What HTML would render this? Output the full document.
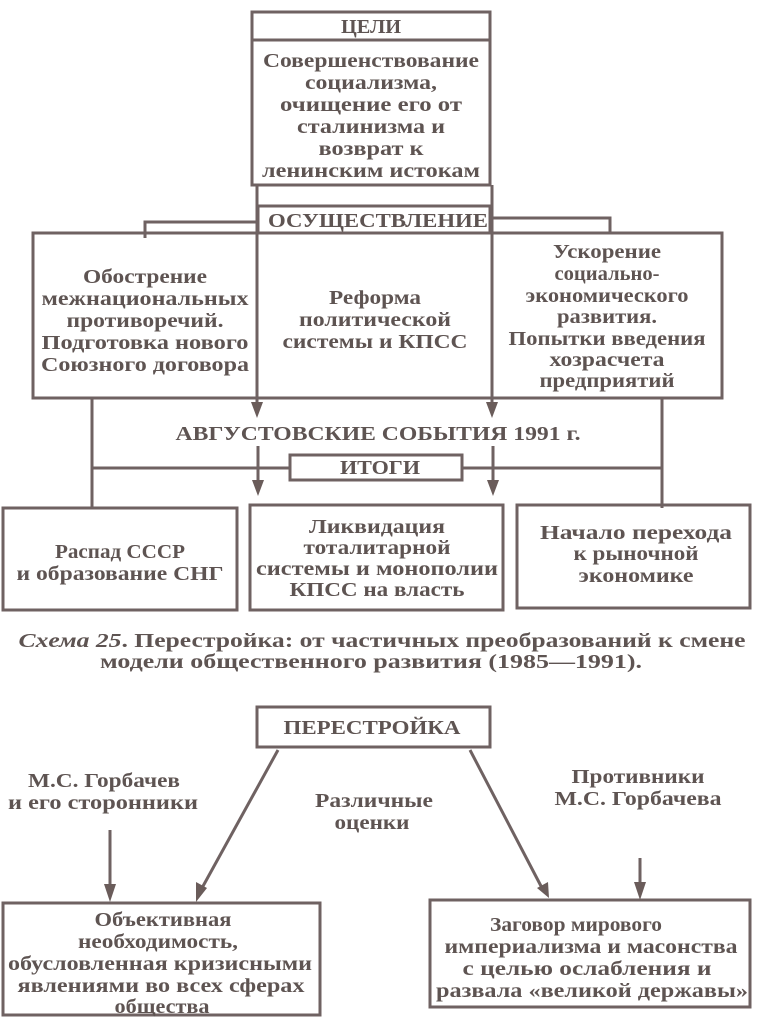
<!DOCTYPE html>
<html><head><meta charset="utf-8"><style>
html,body{margin:0;padding:0;background:#fff}
svg{display:block}
text{font-family:"Liberation Serif","DejaVu Serif",serif;font-weight:bold;fill:#5e5452;font-size:20px;text-anchor:middle}
</style></head><body>
<svg width="767" height="1024" viewBox="0 0 767 1024" xmlns="http://www.w3.org/2000/svg">
<g fill="none" stroke="#6f6262" stroke-width="3">
<rect x="252" y="12" width="238" height="173"/>
<line x1="252" y1="40" x2="490" y2="40"/>
<line x1="257" y1="185" x2="257" y2="405"/>
<line x1="492" y1="185" x2="492" y2="405"/>
<rect x="258" y="206" width="232" height="27"/>
<polyline points="145,238 145,222 258,222"/>
<polyline points="490,218 610,218 610,233"/>
<rect x="33" y="233" width="689" height="165"/>
<line x1="92" y1="398" x2="92" y2="508"/>
<line x1="662" y1="398" x2="662" y2="508"/>
<line x1="92" y1="468" x2="290" y2="468"/>
<line x1="462" y1="468" x2="662" y2="468"/>
<rect x="290" y="455" width="172" height="25"/>
<line x1="258" y1="446" x2="258" y2="485"/>
<line x1="493" y1="446" x2="493" y2="485"/>
<rect x="3" y="508" width="234" height="102"/>
<rect x="250" y="505" width="253" height="105"/>
<rect x="517" y="505" width="233" height="103"/>
<rect x="257" y="707" width="233" height="40"/>
<line x1="278" y1="750" x2="202" y2="888"/>
<line x1="470" y1="750" x2="542" y2="888"/>
<line x1="110" y1="830" x2="110" y2="888"/>
<line x1="640" y1="858" x2="640" y2="886"/>
<rect x="3" y="903" width="317" height="112"/>
<rect x="430" y="900" width="320" height="107"/>
</g>
<g fill="#6a5c5a">
<polygon points="251,402 263,402 257,418"/>
<polygon points="486,402 498,402 492,418"/>
<polygon points="252,480 264,480 258,496"/>
<polygon points="487,480 499,480 493,496"/>
<polygon points="104,884 116,884 110,902"/>
<polygon points="634,882 646,882 640,900"/>
<polygon points="196,882 207,888 196,902"/>
<polygon points="537,888 548,882 549,898"/>
</g>
<g lengthAdjust="spacingAndGlyphs">
<text x="371" y="33" textLength="60" lengthAdjust="spacingAndGlyphs">ЦЕЛИ</text>
<text x="371" y="67" textLength="216" lengthAdjust="spacingAndGlyphs">Совершенствование</text>
<text x="371" y="89" textLength="132" lengthAdjust="spacingAndGlyphs">социализма,</text>
<text x="371" y="111" textLength="182" lengthAdjust="spacingAndGlyphs">очищение его от</text>
<text x="371" y="133" textLength="148" lengthAdjust="spacingAndGlyphs">сталинизма и</text>
<text x="371" y="155" textLength="105" lengthAdjust="spacingAndGlyphs">возврат к</text>
<text x="371" y="177" textLength="218" lengthAdjust="spacingAndGlyphs">ленинским истокам</text>
<text x="378" y="227" textLength="220" lengthAdjust="spacingAndGlyphs">ОСУЩЕСТВЛЕНИЕ</text>
<text x="145" y="283" textLength="124" lengthAdjust="spacingAndGlyphs">Обострение</text>
<text x="145" y="305" textLength="207" lengthAdjust="spacingAndGlyphs">межнациональных</text>
<text x="145" y="327" textLength="157" lengthAdjust="spacingAndGlyphs">противоречий.</text>
<text x="145" y="349" textLength="207" lengthAdjust="spacingAndGlyphs">Подготовка нового</text>
<text x="145" y="371" textLength="208" lengthAdjust="spacingAndGlyphs">Союзного договора</text>
<text x="375" y="304" textLength="92" lengthAdjust="spacingAndGlyphs">Реформа</text>
<text x="375" y="326" textLength="152" lengthAdjust="spacingAndGlyphs">политической</text>
<text x="375" y="348" textLength="185" lengthAdjust="spacingAndGlyphs">системы и КПСС</text>
<text x="607" y="258" textLength="108" lengthAdjust="spacingAndGlyphs">Ускорение</text>
<text x="607" y="280" textLength="105" lengthAdjust="spacingAndGlyphs">социально-</text>
<text x="607" y="302" textLength="163" lengthAdjust="spacingAndGlyphs">экономического</text>
<text x="607" y="323" textLength="100" lengthAdjust="spacingAndGlyphs">развития.</text>
<text x="607" y="345" textLength="197" lengthAdjust="spacingAndGlyphs">Попытки введения</text>
<text x="607" y="366" textLength="115" lengthAdjust="spacingAndGlyphs">хозрасчета</text>
<text x="607" y="387" textLength="135" lengthAdjust="spacingAndGlyphs">предприятий</text>
<text x="378" y="440" textLength="405" lengthAdjust="spacingAndGlyphs">АВГУСТОВСКИЕ СОБЫТИЯ 1991 г.</text>
<text x="380" y="474" textLength="80" lengthAdjust="spacingAndGlyphs">ИТОГИ</text>
<text x="120" y="558" textLength="130" lengthAdjust="spacingAndGlyphs">Распад СССР</text>
<text x="120" y="580" textLength="207" lengthAdjust="spacingAndGlyphs">и образование СНГ</text>
<text x="377" y="533" textLength="136" lengthAdjust="spacingAndGlyphs">Ликвидация</text>
<text x="377" y="554" textLength="147" lengthAdjust="spacingAndGlyphs">тоталитарной</text>
<text x="377" y="575" textLength="242" lengthAdjust="spacingAndGlyphs">системы и монополии</text>
<text x="377" y="596" textLength="175" lengthAdjust="spacingAndGlyphs">КПСС на власть</text>
<text x="636" y="539" textLength="192" lengthAdjust="spacingAndGlyphs">Начало перехода</text>
<text x="636" y="560" textLength="125" lengthAdjust="spacingAndGlyphs">к рыночной</text>
<text x="636" y="582" textLength="115" lengthAdjust="spacingAndGlyphs">экономике</text>
<text x="382" y="647" textLength="727" lengthAdjust="spacingAndGlyphs"><tspan font-style="italic">Схема 25</tspan>. Перестройка: от частичных преобразований к смене</text>
<text x="371" y="668" textLength="542" lengthAdjust="spacingAndGlyphs">модели общественного развития (1985—1991).</text>
<text x="372" y="734" textLength="177" lengthAdjust="spacingAndGlyphs">ПЕРЕСТРОЙКА</text>
<text x="104" y="787" textLength="152" lengthAdjust="spacingAndGlyphs">М.С. Горбачев</text>
<text x="103" y="809" textLength="190" lengthAdjust="spacingAndGlyphs">и его сторонники</text>
<text x="374" y="807" textLength="118" lengthAdjust="spacingAndGlyphs">Различные</text>
<text x="372" y="829" textLength="75" lengthAdjust="spacingAndGlyphs">оценки</text>
<text x="638" y="783" textLength="133" lengthAdjust="spacingAndGlyphs">Противники</text>
<text x="638" y="805" textLength="167" lengthAdjust="spacingAndGlyphs">М.С. Горбачева</text>
<text x="163" y="926" textLength="137" lengthAdjust="spacingAndGlyphs">Объективная</text>
<text x="158" y="948" textLength="160" lengthAdjust="spacingAndGlyphs">необходимость,</text>
<text x="160" y="970" textLength="304" lengthAdjust="spacingAndGlyphs">обусловленная кризисными</text>
<text x="161" y="992" textLength="287" lengthAdjust="spacingAndGlyphs">явлениями во всех сферах</text>
<text x="162" y="1013" textLength="95" lengthAdjust="spacingAndGlyphs">общества</text>
<text x="576" y="931" textLength="172" lengthAdjust="spacingAndGlyphs">Заговор мирового</text>
<text x="591" y="953" textLength="293" lengthAdjust="spacingAndGlyphs">империализма и масонства</text>
<text x="587" y="975" textLength="249" lengthAdjust="spacingAndGlyphs">с целью ослабления и</text>
<text x="592" y="997" textLength="312" lengthAdjust="spacingAndGlyphs">развала «великой державы»</text>
</g>
</svg>
</body></html>
